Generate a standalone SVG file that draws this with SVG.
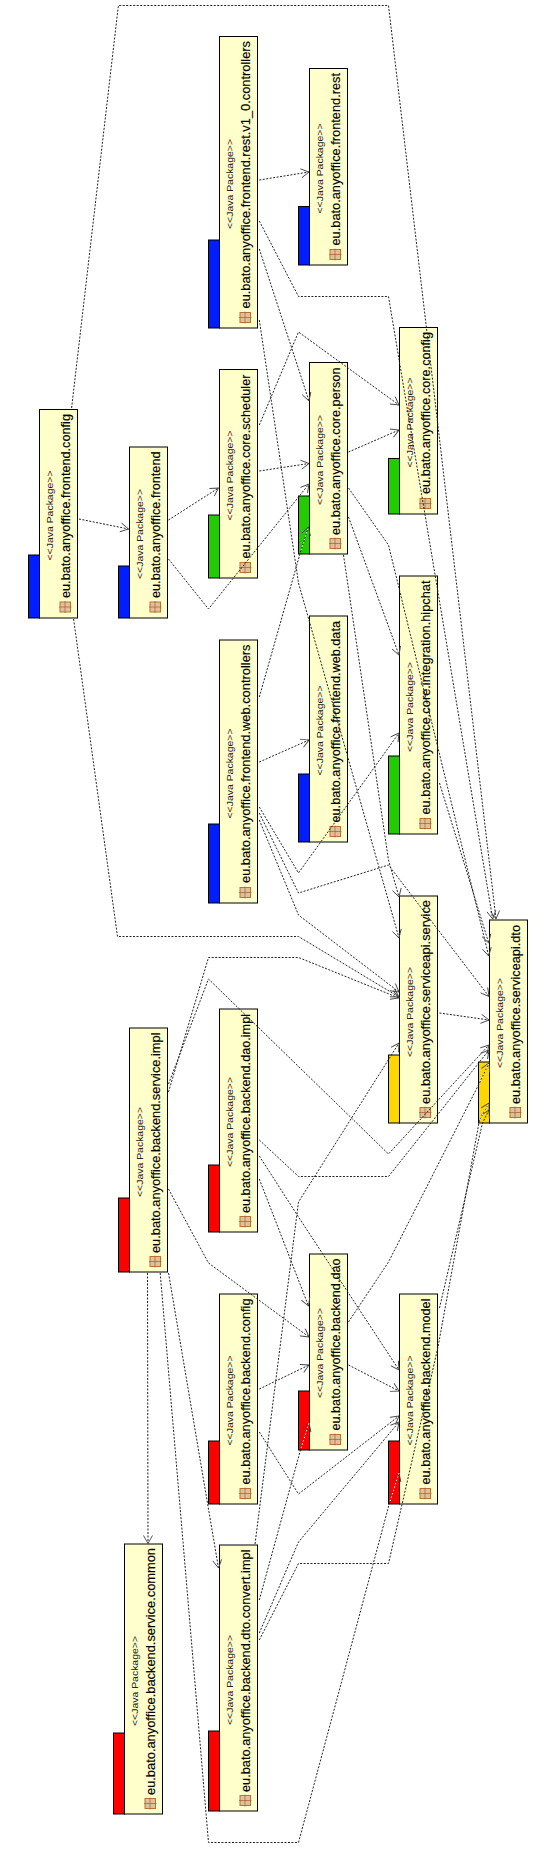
<svg xmlns="http://www.w3.org/2000/svg" width="558" height="1855" viewBox="0 0 558 1855">
<style>
text{font-family:"Liberation Sans",Arial,sans-serif;fill:#000}
.st{font-size:9.5px;text-anchor:middle;fill:#222}
.nm{font-size:12px;stroke:#000;stroke-width:0.15}
.box{fill:#ffffcc;stroke:#000;stroke-width:1}
.tab{stroke:#000;stroke-width:1}
.blue{fill:#001eff}.green{fill:#22cc00}.red{fill:#ff0000}.gold{fill:#ffd700}
.e{fill:none;stroke:#222;stroke-width:1;stroke-dasharray:2 1.5;marker-end:url(#a)}
.w{fill:none;stroke:#fff;stroke-width:1;stroke-dasharray:1.5 2;stroke-dashoffset:-2}
</style>
<defs>
<marker id="a" markerUnits="userSpaceOnUse" markerWidth="12" markerHeight="12" refX="9" refY="6" orient="auto"><path d="M1,1.5 L9,6 L1,10.5" fill="none" stroke="#444" stroke-width="0.9"/></marker>
<g id="pkg"><rect x="-5" y="-5" width="10.5" height="10" fill="#e0c09c" stroke="#b87333"/><path d="M-6,0H6.5M0,-6V6" stroke="#a06030" stroke-width="0.7" fill="none"/></g>
</defs>
<g id="n-frontend-config"><rect class="tab blue" x="28.5" y="555" width="11" height="63"/><rect class="box" x="39.5" y="409.5" width="38" height="208.5"/><use href="#pkg" x="65" y="607"/><text class="st" transform="translate(52.5,515.5) rotate(-90)" textLength="90" lengthAdjust="spacingAndGlyphs">&lt;&lt;Java Package&gt;&gt;</text><text class="nm" transform="translate(70,598) rotate(-90)" textLength="184" lengthAdjust="spacingAndGlyphs">eu.bato.anyoffice.frontend.config</text></g>
<g id="n-frontend"><rect class="tab blue" x="118.5" y="566" width="11" height="52"/><rect class="box" x="129.5" y="447" width="38" height="171"/><use href="#pkg" x="155" y="607"/><text class="st" transform="translate(142.5,534) rotate(-90)" textLength="90" lengthAdjust="spacingAndGlyphs">&lt;&lt;Java Package&gt;&gt;</text><text class="nm" transform="translate(160,598) rotate(-90)" textLength="146.5" lengthAdjust="spacingAndGlyphs">eu.bato.anyoffice.frontend</text></g>
<g id="n-rest-controllers"><rect class="tab blue" x="208.5" y="240" width="11" height="88"/><rect class="box" x="219.5" y="36.5" width="38" height="291.5"/><use href="#pkg" x="245" y="317.5"/><text class="st" transform="translate(232.5,184) rotate(-90)" textLength="90" lengthAdjust="spacingAndGlyphs">&lt;&lt;Java Package&gt;&gt;</text><text class="nm" transform="translate(250,308.5) rotate(-90)" textLength="267.5" lengthAdjust="spacingAndGlyphs">eu.bato.anyoffice.frontend.rest.v1_0.controllers</text></g>
<g id="n-frontend-rest"><rect class="tab blue" x="298.5" y="206.5" width="11" height="58.5"/><rect class="box" x="309.5" y="68.5" width="38" height="196.5"/><use href="#pkg" x="335" y="254.5"/><text class="st" transform="translate(322.5,168.5) rotate(-90)" textLength="90" lengthAdjust="spacingAndGlyphs">&lt;&lt;Java Package&gt;&gt;</text><text class="nm" transform="translate(340,245.5) rotate(-90)" textLength="172.5" lengthAdjust="spacingAndGlyphs">eu.bato.anyoffice.frontend.rest</text></g>
<g id="n-core-config"><rect class="tab green" x="388.5" y="458.5" width="11" height="55.5"/><rect class="box" x="399.5" y="327.5" width="38" height="186.5"/><use href="#pkg" x="425" y="503.5"/><text class="st" transform="translate(412.5,422.5) rotate(-90)" textLength="90" lengthAdjust="spacingAndGlyphs">&lt;&lt;Java Package&gt;&gt;</text><text class="nm" transform="translate(430,494) rotate(-90)" textLength="162" lengthAdjust="spacingAndGlyphs">eu.bato.anyoffice.core.config</text></g>
<g id="n-core-scheduler"><rect class="tab green" x="208.5" y="515" width="11" height="63"/><rect class="box" x="219.5" y="369.5" width="38" height="208.5"/><use href="#pkg" x="245" y="567.5"/><text class="st" transform="translate(232.5,475.5) rotate(-90)" textLength="90" lengthAdjust="spacingAndGlyphs">&lt;&lt;Java Package&gt;&gt;</text><text class="nm" transform="translate(250,558.5) rotate(-90)" textLength="184" lengthAdjust="spacingAndGlyphs">eu.bato.anyoffice.core.scheduler</text></g>
<g id="n-core-person"><rect class="tab green" x="298.5" y="496" width="11" height="58"/><rect class="box" x="309.5" y="362.5" width="38" height="191.5"/><use href="#pkg" x="335" y="543.5"/><text class="st" transform="translate(322.5,460) rotate(-90)" textLength="90" lengthAdjust="spacingAndGlyphs">&lt;&lt;Java Package&gt;&gt;</text><text class="nm" transform="translate(340,535) rotate(-90)" textLength="167.5" lengthAdjust="spacingAndGlyphs">eu.bato.anyoffice.core.person</text></g>
<g id="n-web-controllers"><rect class="tab blue" x="208.5" y="824" width="11" height="79"/><rect class="box" x="219.5" y="640" width="38" height="263"/><use href="#pkg" x="245" y="892.5"/><text class="st" transform="translate(232.5,773.5) rotate(-90)" textLength="90" lengthAdjust="spacingAndGlyphs">&lt;&lt;Java Package&gt;&gt;</text><text class="nm" transform="translate(250,883) rotate(-90)" textLength="238.5" lengthAdjust="spacingAndGlyphs">eu.bato.anyoffice.frontend.web.controllers</text></g>
<g id="n-web-data"><rect class="tab blue" x="298.5" y="774" width="11" height="68"/><rect class="box" x="309.5" y="616" width="38" height="226"/><use href="#pkg" x="335" y="831.5"/><text class="st" transform="translate(322.5,730.5) rotate(-90)" textLength="90" lengthAdjust="spacingAndGlyphs">&lt;&lt;Java Package&gt;&gt;</text><text class="nm" transform="translate(340,822.5) rotate(-90)" textLength="201.5" lengthAdjust="spacingAndGlyphs">eu.bato.anyoffice.frontend.web.data</text></g>
<g id="n-hipchat"><rect class="tab green" x="388.5" y="756" width="11" height="78"/><rect class="box" x="399.5" y="576" width="38" height="258"/><use href="#pkg" x="425" y="823.5"/><text class="st" transform="translate(412.5,707) rotate(-90)" textLength="90" lengthAdjust="spacingAndGlyphs">&lt;&lt;Java Package&gt;&gt;</text><text class="nm" transform="translate(430,814.5) rotate(-90)" textLength="234" lengthAdjust="spacingAndGlyphs">eu.bato.anyoffice.core.integration.hipchat</text></g>
<g id="n-service"><rect class="tab gold" x="388.5" y="1055" width="11" height="68"/><rect class="box" x="399.5" y="896" width="38" height="227"/><use href="#pkg" x="425" y="1112.5"/><text class="st" transform="translate(412.5,1012) rotate(-90)" textLength="90" lengthAdjust="spacingAndGlyphs">&lt;&lt;Java Package&gt;&gt;</text><text class="nm" transform="translate(430,1104) rotate(-90)" textLength="204" lengthAdjust="spacingAndGlyphs">eu.bato.anyoffice.serviceapi.service</text></g>
<g id="n-dto"><rect class="tab gold" x="478.5" y="1062" width="11" height="61"/><rect class="box" x="489.5" y="920" width="38" height="203"/><use href="#pkg" x="515" y="1112.5"/><text class="st" transform="translate(502.5,1023) rotate(-90)" textLength="90" lengthAdjust="spacingAndGlyphs">&lt;&lt;Java Package&gt;&gt;</text><text class="nm" transform="translate(520,1104) rotate(-90)" textLength="179" lengthAdjust="spacingAndGlyphs">eu.bato.anyoffice.serviceapi.dto</text></g>
<g id="n-service-impl"><rect class="tab red" x="118.5" y="1198" width="11" height="74"/><rect class="box" x="129.5" y="1028" width="38" height="244"/><use href="#pkg" x="155" y="1261.5"/><text class="st" transform="translate(142.5,1152) rotate(-90)" textLength="90" lengthAdjust="spacingAndGlyphs">&lt;&lt;Java Package&gt;&gt;</text><text class="nm" transform="translate(160,1253) rotate(-90)" textLength="220.5" lengthAdjust="spacingAndGlyphs">eu.bato.anyoffice.backend.service.impl</text></g>
<g id="n-dao-impl"><rect class="tab red" x="208.5" y="1165" width="11" height="67"/><rect class="box" x="219.5" y="1009" width="38" height="223"/><use href="#pkg" x="245" y="1221.5"/><text class="st" transform="translate(232.5,1122) rotate(-90)" textLength="90" lengthAdjust="spacingAndGlyphs">&lt;&lt;Java Package&gt;&gt;</text><text class="nm" transform="translate(250,1213) rotate(-90)" textLength="199" lengthAdjust="spacingAndGlyphs">eu.bato.anyoffice.backend.dao.impl</text></g>
<g id="n-backend-dao"><rect class="tab red" x="298.5" y="1391" width="11" height="59"/><rect class="box" x="309.5" y="1254" width="38" height="196"/><use href="#pkg" x="335" y="1439.5"/><text class="st" transform="translate(322.5,1353) rotate(-90)" textLength="90" lengthAdjust="spacingAndGlyphs">&lt;&lt;Java Package&gt;&gt;</text><text class="nm" transform="translate(340,1430.5) rotate(-90)" textLength="172" lengthAdjust="spacingAndGlyphs">eu.bato.anyoffice.backend.dao</text></g>
<g id="n-backend-config"><rect class="tab red" x="208.5" y="1441" width="11" height="63"/><rect class="box" x="219.5" y="1294" width="38" height="210"/><use href="#pkg" x="245" y="1493.5"/><text class="st" transform="translate(232.5,1400.5) rotate(-90)" textLength="90" lengthAdjust="spacingAndGlyphs">&lt;&lt;Java Package&gt;&gt;</text><text class="nm" transform="translate(250,1484.5) rotate(-90)" textLength="186" lengthAdjust="spacingAndGlyphs">eu.bato.anyoffice.backend.config</text></g>
<g id="n-backend-model"><rect class="tab red" x="388.5" y="1441" width="11" height="63"/><rect class="box" x="399.5" y="1294" width="38" height="210"/><use href="#pkg" x="425" y="1493.5"/><text class="st" transform="translate(412.5,1400.5) rotate(-90)" textLength="90" lengthAdjust="spacingAndGlyphs">&lt;&lt;Java Package&gt;&gt;</text><text class="nm" transform="translate(430,1484.5) rotate(-90)" textLength="186" lengthAdjust="spacingAndGlyphs">eu.bato.anyoffice.backend.model</text></g>
<g id="n-service-common"><rect class="tab red" x="113.5" y="1733" width="11" height="81"/><rect class="box" x="124.5" y="1544" width="38" height="270"/><use href="#pkg" x="150" y="1803.5"/><text class="st" transform="translate(137.5,1681) rotate(-90)" textLength="90" lengthAdjust="spacingAndGlyphs">&lt;&lt;Java Package&gt;&gt;</text><text class="nm" transform="translate(155,1795) rotate(-90)" textLength="247" lengthAdjust="spacingAndGlyphs">eu.bato.anyoffice.backend.service.common</text></g>
<g id="n-convert-impl"><rect class="tab red" x="208.5" y="1731" width="11" height="80"/><rect class="box" x="219.5" y="1545" width="38" height="266"/><use href="#pkg" x="245" y="1800.5"/><text class="st" transform="translate(232.5,1680) rotate(-90)" textLength="90" lengthAdjust="spacingAndGlyphs">&lt;&lt;Java Package&gt;&gt;</text><text class="nm" transform="translate(250,1792) rotate(-90)" textLength="242.5" lengthAdjust="spacingAndGlyphs">eu.bato.anyoffice.backend.dto.convert.impl</text></g>
<g id="connectors">
<polyline class="e" points="71.6,408 118.4,5.5 388.5,5.5 496,919"/>
<polyline class="e" points="259.3,180 309,172"/>
<polyline class="e" points="259.3,249 309,401"/>
<polyline class="e" points="259.3,221 298.5,296.5 388.5,296.5 492.7,919"/>
<polyline class="e" points="259.3,320 298.5,583 399,938"/>
<polyline class="e" points="259.3,425 298.5,332 399,405"/>
<polyline class="e" points="259.3,471 309,463.5"/>
<polyline class="e" points="348.5,452 399,430"/>
<polyline class="e" points="348.5,517 399,655"/>
<polyline class="e" points="348.5,488 388.5,545 488.7,956"/>
<polyline class="e" points="343.5,555 388.5,860 399,897"/>
<polyline class="e" points="439.5,783 488.7,943"/>
<polyline class="e" points="79,519 128.5,529"/>
<polyline class="e" points="168.5,520 218.5,488"/>
<polyline class="e" points="168.5,559 208.5,609 309,484"/>
<polyline class="e" points="73.6,619 117.5,936.5 298.5,936.5 399,997"/>
<polyline class="e" points="259.3,762 309,740"/>
<polyline class="e" points="259.3,697 300.5,552 308.5,527"/>
<polyline class="e" points="259.3,807 298.5,873 399,733"/>
<polyline class="e" points="259.3,813 298.5,893 388.5,865 489,996.5"/>
<polyline class="e" points="259.3,820 298.5,915 399,992"/>
<polyline class="e" points="168.5,1092 208.5,957.5 298.5,957.5 399,998"/>
<polyline class="e" points="168.5,1084 208.5,979 388.5,1154 489,1045"/>
<polyline class="e" points="168.5,1189 208.5,1263 309,1337"/>
<polyline class="e" points="147.5,1273 148,1543.5"/>
<polyline class="e" points="168.5,1273 218.5,1568"/>
<polyline class="e" points="160.2,1273 208.5,1842.5 298.5,1842.5 389.5,1503 399,1473"/>
<polyline class="e" points="259.3,1140 298.5,1176.5 388.5,1176.5 489,1050"/>
<polyline class="e" points="259.3,1179 308.5,1306"/>
<polyline class="e" points="259.3,1156 298.5,1217 399,1370"/>
<polyline class="e" points="348.5,1322 388.5,1262 479.5,1083 489,1063"/>
<polyline class="e" points="348.5,1365 399,1391"/>
<polyline class="e" points="259.3,1389 309,1365"/>
<polyline class="e" points="259.3,1432 298.5,1494 399,1416"/>
<polyline class="e" points="255,1544 298.5,1202 399,1043"/>
<polyline class="e" points="259.3,1600 300.5,1450 309,1423"/>
<polyline class="e" points="259.3,1633 298.5,1542 399,1422"/>
<polyline class="e" points="259.3,1640 298.5,1563.5 388.5,1563.5 438,1347 479.5,1120 489,1103"/>
<polyline class="e" points="439.5,1308 482.5,1123 489,1110"/>
<polyline class="e" points="439.5,1013 489,1020"/>
<path class="w" d="M300.5,552 L308.5,527M300.5,1450 L309,1423M389.5,1503 L399,1473M479.5,1083 L489,1063M479.5,1120 L489,1103"/>
</g>
</svg>
